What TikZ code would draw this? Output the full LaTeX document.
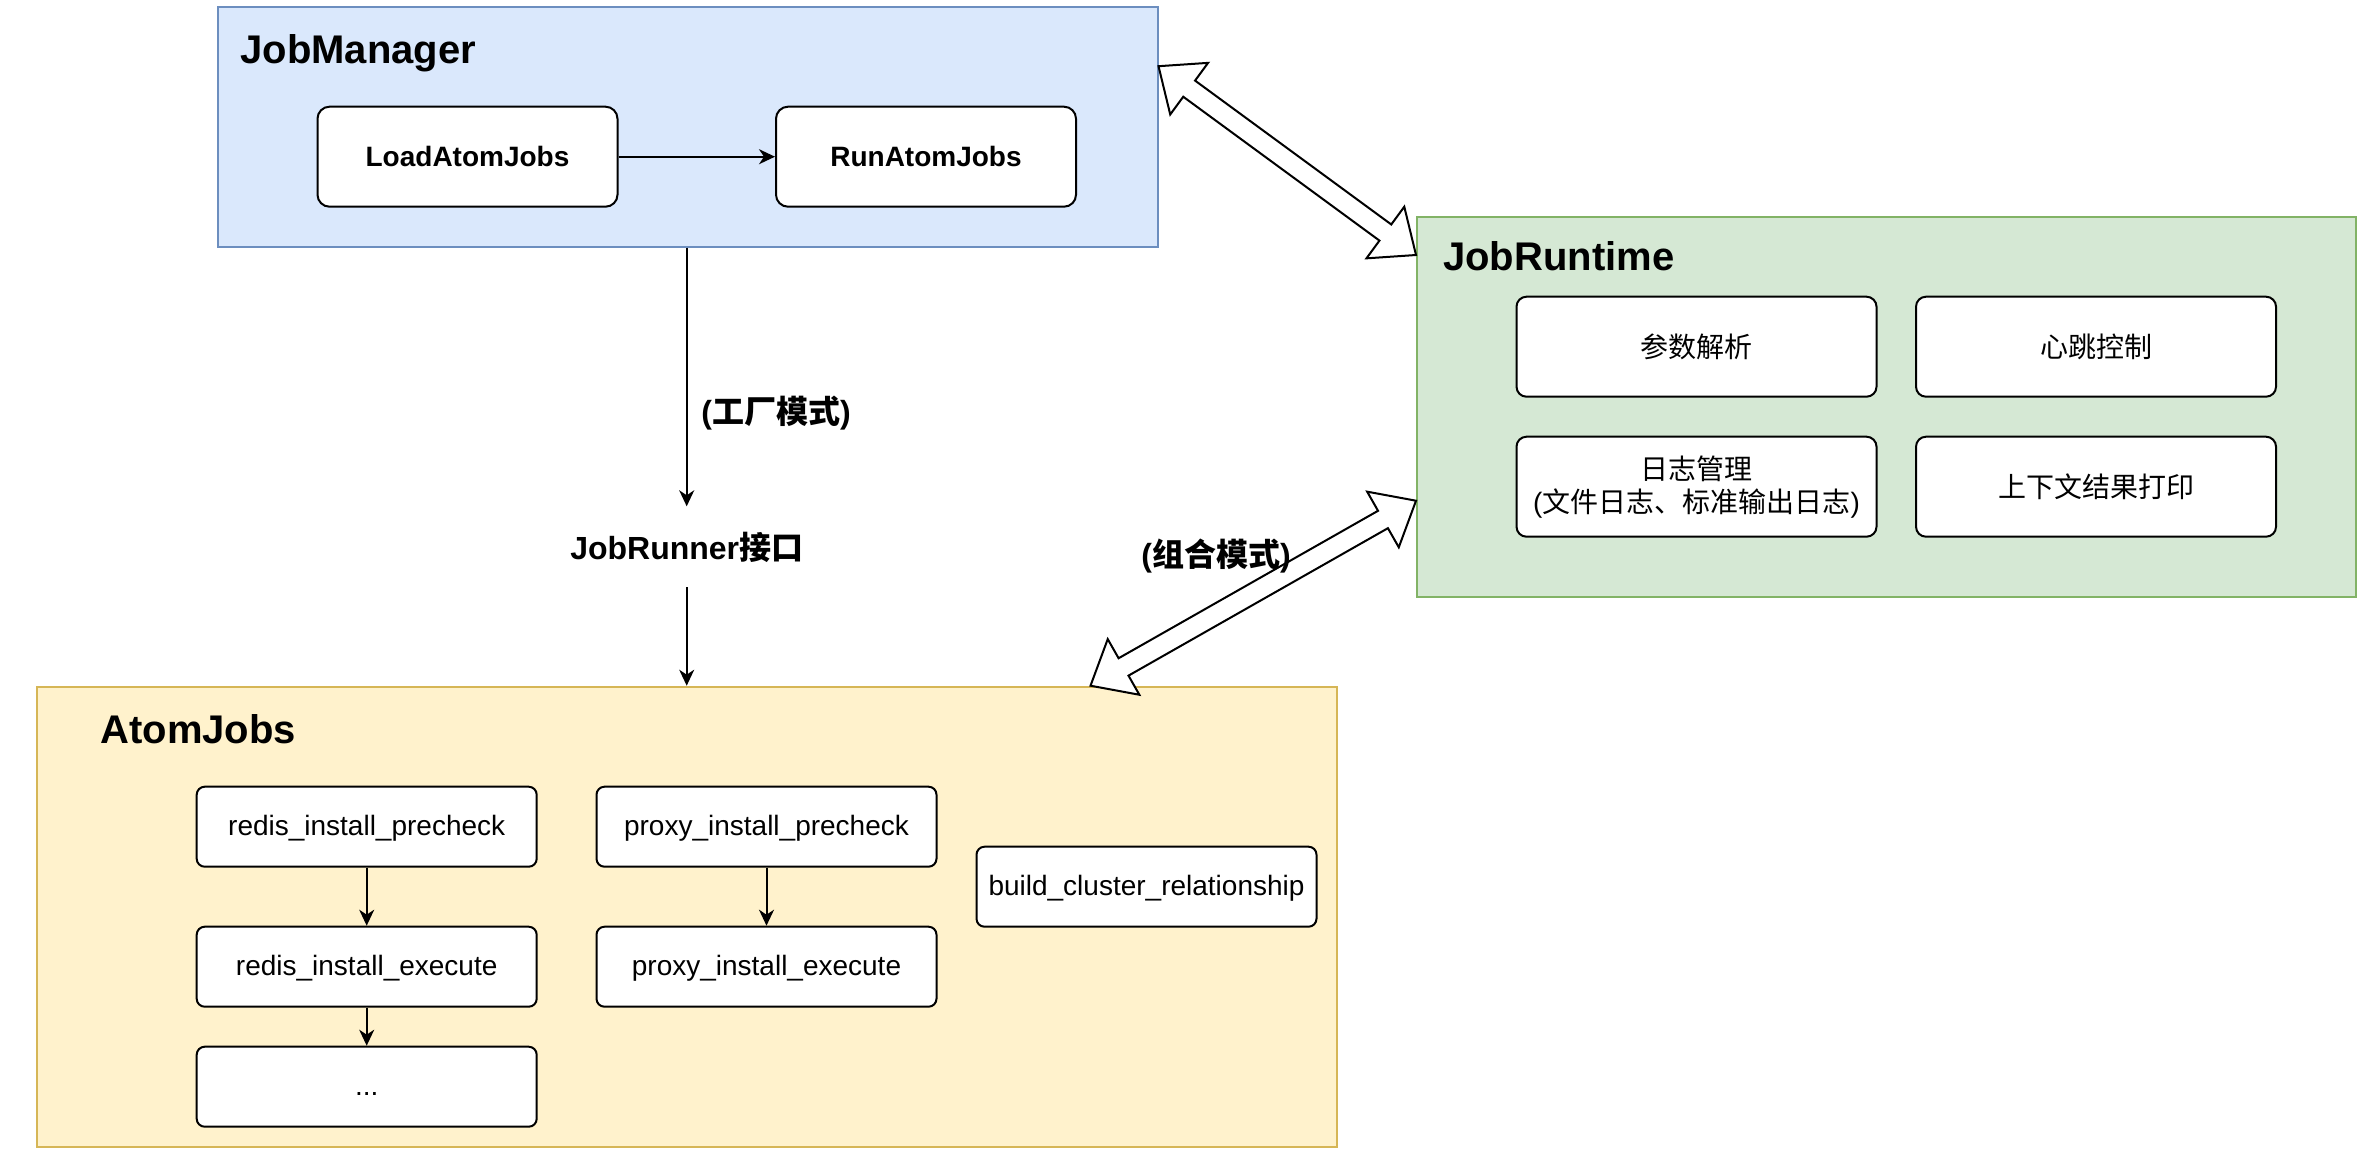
\documentclass[tikz,border=0pt]{standalone}
\usepackage{fontspec}
\setmainfont{Liberation Sans}
\newfontfamily\cjk{Noto Sans CJK SC}
\newcommand\zh[1]{{\cjk #1}}
\usetikzlibrary{calc,arrows.meta}
\definecolor{jmfill}{HTML}{DAE8FC}
\definecolor{jmdraw}{HTML}{6C8EBF}
\definecolor{jrfill}{HTML}{D5E8D4}
\definecolor{jrdraw}{HTML}{82B366}
\definecolor{ajfill}{HTML}{FFF2CC}
\definecolor{ajdraw}{HTML}{D6B656}
\newcommand\myflexarrow[2]{%
  \draw[flexarrow] (#1)
    -- ($(#1)!19pt!(#2)!16pt!90:(#2)$)
    -- ($(#1)!19pt!(#2)!5pt!90:(#2)$)
    -- ($(#2)!19pt!(#1)!5pt!-90:(#1)$)
    -- ($(#2)!19pt!(#1)!16pt!-90:(#1)$)
    -- (#2)
    -- ($(#2)!19pt!(#1)!16pt!90:(#1)$)
    -- ($(#2)!19pt!(#1)!5pt!90:(#1)$)
    -- ($(#1)!19pt!(#2)!5pt!-90:(#2)$)
    -- ($(#1)!19pt!(#2)!16pt!-90:(#2)$)
    -- cycle;}
\begin{document}
\begin{tikzpicture}[x=0.5pt,y=-0.5pt,
  container/.style={rectangle, line width=1pt, inner sep=0pt},
  title/.style={anchor=base west, inner sep=0pt, font=\fontsize{20}{24}\selectfont\bfseries},
  boxa/.style={rectangle, draw=black, fill=white, line width=1pt, rounded corners=6pt, inner sep=0pt,
    minimum width=150pt, minimum height=50pt, text height=12pt, text depth=2pt,
    font=\fontsize{14}{17}\selectfont\bfseries},
  boxb/.style={rectangle, draw=black, fill=white, line width=1pt, rounded corners=5pt, inner sep=0pt,
    minimum width=180pt, minimum height=50pt, align=center, font=\fontsize{14}{16.5}\selectfont},
  boxc/.style={rectangle, draw=black, fill=white, line width=1pt, rounded corners=4pt, inner sep=0pt,
    minimum width=170pt, minimum height=40pt, text height=10.5pt, text depth=2pt,
    font=\fontsize{14}{17}\selectfont},
  conn/.style={line width=1pt, -{Stealth[length=8pt,width=7.5pt,inset=2.5pt]}},
  flexarrow/.style={draw=black, fill=white, line width=1pt, line join=miter},
  lbl/.style={inner sep=0pt, font=\fontsize{16}{19}\selectfont\bfseries}]
\useasboundingbox (0,0) rectangle (2364,1152);

% containers
\node[container, draw=jmdraw, fill=jmfill, minimum width=470pt, minimum height=120pt] (jm) at (687.5,126.7) {};
\node[container, draw=jrdraw, fill=jrfill, minimum width=469.5pt, minimum height=190pt] (jr) at (1886.5,406.7) {};
\node[container, draw=ajdraw, fill=ajfill, minimum width=650pt, minimum height=230pt] (aj) at (686.5,916.7) {};

% titles
\node[title] (jmt) at (240,63) {JobManager};
\node[title] (jrt) at (1442.7,270.5) {JobRuntime};
\node[title] (ajt) at (100,743.3) {AtomJobs};

% JobManager content
\node[boxa] (load) at (467.5,156.7) {LoadAtomJobs};
\node[boxa] (run) at (926,156.7) {RunAtomJobs};
\draw[conn] (load) -- (run);

% JobRuntime content
\node[boxb] (param) at (1696.5,346.7) {\zh{参数解析}};
\node[boxb] (heart) at (2096,346.7) {\zh{心跳控制}};
\node[boxb] (log) at (1696.5,486.7) {\zh{日志管理}\\(\zh{文件日志、标准输出日志})};
\node[boxb] (ctx) at (2096,486.7) {\zh{上下文结果打印}};

% AtomJobs content
\node[boxc] (rpre) at (366.7,826.7) {redis\_install\_precheck};
\node[boxc] (rexe) at (366.7,966.7) {redis\_install\_execute};
\node[boxc] (rmore) at (366.7,1086.7) {...};
\node[boxc] (ppre) at (766.5,826.7) {proxy\_install\_precheck};
\node[boxc] (pexe) at (766.5,966.7) {proxy\_install\_execute};
\node[boxc] (build) at (1146.5,886.7) {build\_cluster\_relationship};
\draw[conn] (rpre) -- (rexe);
\draw[conn] (rexe) -- (rmore);
\draw[conn] (ppre) -- (pexe);

% JobRunner interface
\node[inner sep=0pt, minimum width=120pt, minimum height=40pt, text height=15pt, text depth=2pt,
  font=\fontsize{16}{19}\selectfont\bfseries] (runner) at (686.7,546.7) {JobRunner\zh{接口}};
\draw[conn] (jm.south -| runner.north) -- (runner.north);
\draw[conn] (runner.south) -- (runner.south |- aj.north);
\node[lbl, anchor=west] (factory) at (701,413) {(\zh{工厂模式})};

% flex arrows
\coordinate (fa1) at ($(jm.north east)+(0,60.5)$);
\coordinate (fa2) at ($(jr.north west)+(0,39.3)$);
\myflexarrow{fa1}{fa2}
\coordinate (fb1) at ($(jr.north west)+(0,285)$);
\coordinate (fb2) at ($(aj.north west)+(1055,0)$);
\myflexarrow{fb1}{fb2}
\node[lbl] (combo) at (1216,556) {(\zh{组合模式})};
\end{tikzpicture}
\end{document}
